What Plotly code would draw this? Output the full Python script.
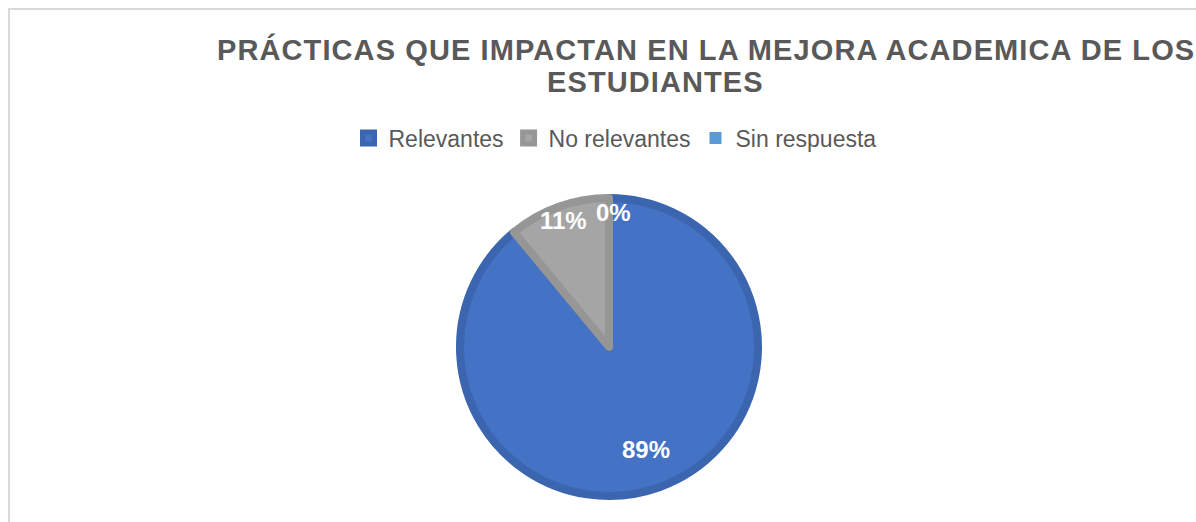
import math
import plotly.graph_objects as go

W, H = 1196, 522

categories = ["Relevantes", "No relevantes", "Sin respuesta"]
values = [89, 11, 0]
fill_colors = ["#4472c4", "#a5a5a5", "#5b9bd5"]
edge_colors = ["#3b65ae", "#969696", "#4f8cc9"]
title_lines = ["PRÁCTICAS QUE IMPACTAN EN LA MEJORA ACADEMICA DE LOS", "ESTUDIANTES"]
label_radius = [0.71, 0.88, 0.88]

cx, cy, r = 609, 347, 149

fig = go.Figure()
fig.add_trace(go.Pie(
    labels=categories,
    values=values,
    sort=False,
    direction="clockwise",
    rotation=0,
    marker=dict(colors=fill_colors,
                line=dict(color=edge_colors, width=[8 if v > 0 else 0 for v in values])),
    textinfo="none",
    domain=dict(x=[(cx - r) / W, (cx + r) / W], y=[1 - (cy + r) / H, 1 - (cy - r) / H]),
    hoverinfo="label+percent",
))

# data labels placed at each slice's mid-angle
total = sum(values)
cum = 0
R = 153
for v, rf in zip(values, label_radius):
    mid = (cum + v / 2) / total * 2 * math.pi
    cum += v
    lx = cx + rf * R * math.sin(mid)
    ly = cy - rf * R * math.cos(mid)
    if v == 0:
        lx += 4
    fig.add_annotation(
        text=f"<b>{round(v / total * 100)}%</b>", x=lx / W, y=1 - ly / H,
        xref="paper", yref="paper", xanchor="center", yanchor="middle", showarrow=False,
        font=dict(family="Liberation Sans, Arial", size=24, color="white"),
    )

# title lines
title_pos = [(705.5, 49), (655, 82)]
for txt, (x, y) in zip(title_lines, title_pos):
    fig.add_annotation(
        text=f"<b><span style='letter-spacing:1.1px'>{txt}</span></b>", x=x / W, y=1 - y / H,
        xref="paper", yref="paper",
        xanchor="center", yanchor="middle", showarrow=False,
        font=dict(family="Liberation Sans, Arial", size=29, color="#595959"),
    )

# chart border
fig.add_shape(type="rect", xref="paper", yref="paper",
              x0=9 / W, x1=1.05, y0=-0.05, y1=1 - 9 / H,
              line=dict(color="#d9d9d9", width=2), fillcolor="rgba(0,0,0,0)")

fig.update_layout(
    width=W, height=H,
    margin=dict(l=0, r=0, t=0, b=0),
    paper_bgcolor="white", plot_bgcolor="white",
    showlegend=True,
    legend=dict(orientation="h", x=615 / W, xanchor="center", y=1 - 138 / H, yanchor="middle",
                font=dict(family="Liberation Sans, Arial", size=23, color="#595959"),
                itemwidth=30, tracegroupgap=0, bgcolor="rgba(0,0,0,0)"),
)

fig.write_html("out.html", config={"displayModeBar": False},
               post_script="document.body.style.margin='0';document.body.style.overflow='hidden';")
